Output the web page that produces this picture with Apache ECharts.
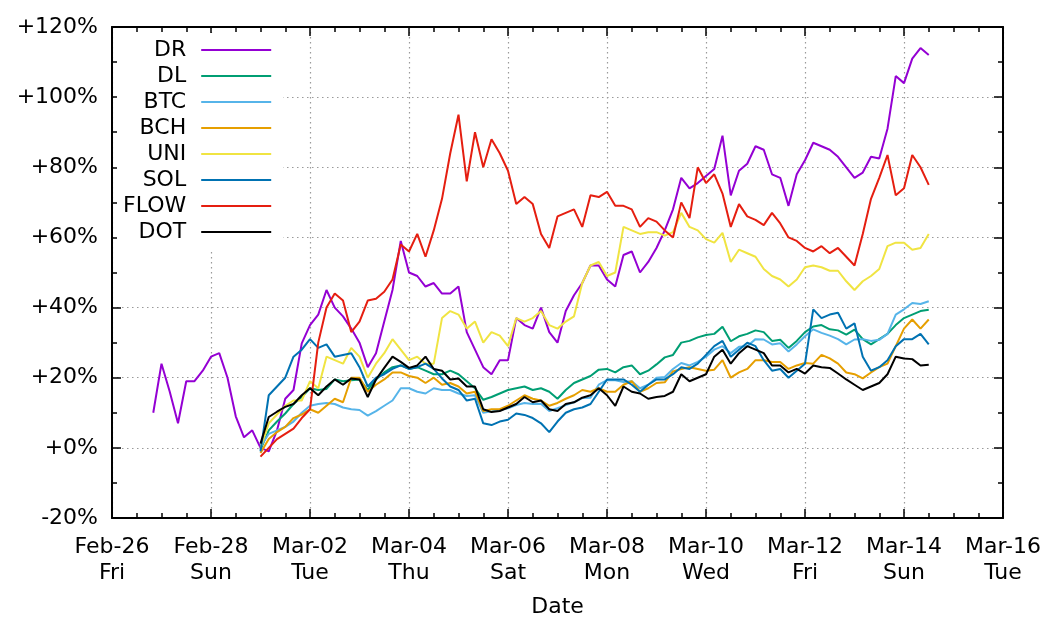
<!DOCTYPE html>
<html>
<head>
<meta charset="utf-8">
<title>Returns since Mar-01</title>
<script src="https://cdn.jsdelivr.net/npm/echarts@6/dist/echarts.min.js"></script>
<style>
  html, body { margin: 0; padding: 0; background: #fff; }
  #main { width: 1049px; height: 629px; }
</style>
</head>
<body>
<div id="main"></div>
<script>
// x axis is in days since Feb-26 00:00, samples every 4 hours
var STEP = 1 / 6;
var drStart = 20 / 24;   // Feb-26 20:00
var coinStart = 3;       // Mar-01 00:00

var dateLabels = ['Feb-26\nFri', 'Feb-28\nSun', 'Mar-02\nTue', 'Mar-04\nThu', 'Mar-06\nSat',
  'Mar-08\nMon', 'Mar-10\nWed', 'Mar-12\nFri', 'Mar-14\nSun', 'Mar-16\nTue'];

var names = ['DR', 'DL', 'BTC', 'BCH', 'UNI', 'SOL', 'FLOW', 'DOT'];
var colors = ['#9400d3', '#009e73', '#56b4e9', '#e69f00', '#f0e442', '#0072b2', '#e51e10', '#000000'];

// % change
var dr = [10,
  24, 16, 7, 19, 19, 22,
  26, 27, 20, 9, 3, 5,
  0, -1, 5, 14, 16.5, 29.8,
  35, 38, 45, 40, 37.5, 34,
  30, 23, 27, 36, 45, 59,
  50, 49, 46, 47, 44, 44,
  46, 33, 28, 23, 21, 25,
  25, 37, 35, 34, 40, 33,
  30, 39, 43.5, 47, 52, 52,
  48, 46, 55, 56, 50, 53,
  57, 62, 68, 77, 74, 75.5,
  77.5, 79.5, 89, 72, 79, 81,
  86, 85, 78, 77, 69, 78,
  82, 87, 86, 85, 83, 80,
  77, 78.5, 83, 82.5, 91, 106,
  104, 111, 114, 112];

var dl = [-0.5, 5, 7.5, 9.8, 12.5, 14.5,
  17, 16.5, 16.8, 19.5, 19, 19.3,
  19.5, 16.5, 19.5, 21.5, 23, 23.5,
  22.5, 23, 22, 21, 21, 22,
  21, 19, 17, 13.7, 14.5, 15.5,
  16.5, 17, 17.5, 16.5, 17, 16,
  14, 16.5, 18.5, 19.5, 20.5, 22.3,
  22.5, 21.5, 23, 23.5, 21, 22,
  23.8, 25.8, 26.5, 30, 30.5, 31.5,
  32.2, 32.5, 34.5, 30.4, 31.8, 32.5,
  33.5, 33, 30.5, 30.8, 28.5, 30.5,
  33, 34.6, 35, 33.8, 33.5, 32.3,
  33.7, 31, 29.5, 31, 32.5, 35,
  37, 38, 39, 39.4];

var btc = [0.3, 4, 5, 6, 7.5, 10,
  12, 12.5, 12.8, 12.5, 11.5, 11,
  10.8, 9.2, 10.5, 12, 13.5, 17,
  17, 16, 15.5, 17, 16.5, 16.5,
  15.5, 14.8, 15, 10, 10.4, 10.8,
  11.3, 12.2, 12.8, 12.5, 12.6, 10.5,
  11.3, 12.2, 13, 14.2, 14.3, 18,
  19.3, 19.3, 18.8, 19, 17, 18,
  20, 20.2, 22.5, 24.2, 23.5, 24.5,
  26, 28, 29, 27, 28.8, 29,
  31, 30.9, 29.5, 29.8, 27.5, 29.5,
  31.8, 33.8, 32.8, 32, 31, 29.5,
  30.9, 31, 30.5, 30.8, 32.5, 38,
  39.5, 41.3, 41, 41.8];

var bch = [-1.5, 2.5, 4.5, 6, 8.5, 9.5,
  11, 10, 12, 14, 13, 20,
  20, 16, 18, 19.5, 21.5, 21.5,
  20.5, 20, 18.5, 20, 18, 18.5,
  17.5, 15.5, 16, 10.5, 11, 11,
  12, 13.5, 15, 14, 13.5, 12,
  12.8, 14, 15, 16.5, 16, 17,
  16, 16, 18, 19, 16, 17,
  18.5, 18.7, 21.8, 22.5, 23, 22.5,
  22, 22.3, 25, 20, 21.5, 22.5,
  25, 25, 24.5, 24.5, 22.5, 23.5,
  24.2, 24, 26.5, 25.5, 24, 21.5,
  21, 19.8, 21.5, 23, 24, 29,
  34, 36.6, 34, 36.6];

var uni = [0, 7, 9.5, 12, 13.5, 13.5,
  19, 17, 26, 25, 24, 28.5,
  26, 20, 24, 27, 31, 28,
  25, 26, 24, 24, 37, 39,
  38, 34, 36, 30, 33, 32,
  29, 37, 36, 37, 39, 35,
  34, 36, 37.5, 47, 52, 53,
  49, 50, 63, 62, 61, 61.5,
  61.5, 60.5, 61.5, 67, 63, 62,
  59.5, 58.5, 61.3, 53, 56.5, 55.5,
  54.5, 51, 49, 48, 46, 48,
  51.5, 52, 51.5, 50.5, 50.5, 47.5,
  45, 47.5, 49, 51, 57.5, 58.5,
  58.5, 56.5, 57, 61];

var sol = [-1, 15, 17.5, 20, 26, 28,
  31, 28.5, 29.5, 26, 26.5, 27,
  23, 17.5, 20, 21, 22.5, 23.5,
  22.5, 23, 24, 22.5, 19.8, 17.5,
  16.5, 13.5, 14, 7, 6.5, 7.5,
  8, 9.8, 9.4, 8.5, 7, 4.5,
  7.5, 10, 11, 11.5, 12.5, 16,
  19.5, 19.5, 19.5, 18, 16, 18,
  19.5, 19.5, 21, 23, 22.5, 24,
  26.5, 29, 30.5, 26, 28, 30,
  29, 25, 22, 22.5, 20, 22,
  24, 39.5, 37, 38, 38.5, 34,
  35.5, 26, 22, 23, 25, 29,
  31, 31, 32.5, 29.5];

var flow = [-2.5, 0, 2.5, 4, 5.5, 8.5,
  11, 30, 40, 44, 42, 33,
  36, 42, 42.5, 44.5, 48, 58,
  56, 61, 54.5, 62, 71, 84,
  95, 76, 90, 80, 88, 84,
  79, 69.5, 71.5, 69.5, 61, 57,
  66, 67, 68, 63, 72, 71.5,
  73, 69, 69, 68, 63, 65.5,
  64.5, 62, 60, 70, 65.5, 80,
  75.5, 78, 72.5, 63, 69.5, 66,
  65, 63.5, 67, 64, 60, 59,
  57, 56, 57.5, 55.5, 57, 54.5,
  52, 61, 71, 77, 83.5, 72,
  74, 83.5, 80, 75];

var dot = [1.2, 8.8, 10.3, 11.7, 12.5, 15,
  17, 15, 17.5, 19.5, 18, 19.8,
  19.5, 14.5, 19.5, 22.8, 26, 24.5,
  22.8, 23.5, 26, 22.5, 22, 19.5,
  19.8, 17.5, 17.5, 11, 10.2, 10.5,
  11.5, 12.5, 14.5, 13, 13.5, 11,
  10.5, 12.5, 13, 14.3, 15, 17,
  15, 12, 17.5, 16, 15.5, 14,
  14.5, 14.8, 16, 21, 19, 20,
  21, 26, 28, 24, 27, 29,
  28, 27, 23.5, 23.5, 21.5, 22.5,
  21.2, 23.5, 23, 22.8, 21.2, 19.5,
  18, 16.5, 17.5, 18.5, 21, 26,
  25.5, 25.3, 23.5, 23.7];

var values = [dr, dl, btc, bch, uni, sol, flow, dot];
var starts = [drStart, coinStart, coinStart, coinStart, coinStart, coinStart, coinStart, coinStart];

function toPoints(start, vals) {
  return vals.map(function (v, i) {
    return [start + i * STEP, v];
  });
}

var FONT = 'DejaVu Sans';
var black = { color: '#000', width: 2 };
var tickStyle = { color: '#000', width: 1.5 };
var gridStyle = { color: '#9a9a9a', width: 1.2, type: [1.5, 3.5] };

var chart = echarts.init(document.getElementById('main'), null, { renderer: 'canvas' });

var series = names.map(function (n, k) {
  return {
    name: n,
    type: 'line',
    symbol: 'none',
    showSymbol: false,
    color: colors[k],
    lineStyle: { width: 2, color: colors[k] },
    data: toPoints(starts[k], values[k])
  };
});

var option = {
  animation: false,
  backgroundColor: '#fff',
  grid: { left: 112, right: 46, top: 27, bottom: 111, containLabel: false },
  legend: {
    data: names,
    orient: 'vertical',
    align: 'right',
    left: 117,
    top: 33,
    icon: 'rect',
    itemWidth: 70,
    itemHeight: 2,
    itemGap: 0,
    padding: [4, 12, 4, 6],
    backgroundColor: '#fff',
    selectedMode: false,
    textStyle: { color: '#000', fontSize: 22, fontFamily: FONT, lineHeight: 26, padding: [0, 10, 0, 0] }
  },
  xAxis: [{
    type: 'value',
    min: 0,
    max: 18,
    interval: 2,
    position: 'bottom',
    axisLine: { show: true, onZero: false, lineStyle: black },
    axisTick: { show: true, inside: true, length: 9, lineStyle: tickStyle },
    minorTick: { show: true, splitNumber: 4, length: 5, lineStyle: tickStyle },
    splitLine: { show: true, lineStyle: gridStyle },
    axisLabel: {
      color: '#000', fontSize: 22, fontFamily: FONT, lineHeight: 26, margin: 16,
      showMinLabel: true, showMaxLabel: true,
      formatter: function (v) { return dateLabels[Math.round(v / 2)]; }
    },
    name: 'Date',
    nameLocation: 'middle',
    nameGap: 78,
    nameTextStyle: { color: '#000', fontSize: 22, fontFamily: FONT }
  }, {
    type: 'value',
    min: 0,
    max: 18,
    interval: 2,
    position: 'top',
    axisLine: { show: true, onZero: false, lineStyle: black },
    axisTick: { show: true, inside: true, length: 9, lineStyle: tickStyle },
    minorTick: { show: true, splitNumber: 4, length: 5, lineStyle: tickStyle },
    splitLine: { show: false },
    axisLabel: { show: false }
  }],
  yAxis: [{
    type: 'value',
    min: -20,
    max: 120,
    interval: 20,
    position: 'left',
    axisLine: { show: true, onZero: false, lineStyle: black },
    axisTick: { show: true, inside: true, length: 9, lineStyle: tickStyle },
    minorTick: { show: true, splitNumber: 2, length: 5, lineStyle: tickStyle },
    splitLine: { show: true, lineStyle: gridStyle },
    axisLabel: {
      color: '#000', fontSize: 22, fontFamily: FONT, margin: 14,
      formatter: function (v) { return (v >= 0 ? '+' : '') + v + '%'; }
    }
  }, {
    type: 'value',
    min: -20,
    max: 120,
    interval: 20,
    position: 'right',
    axisLine: { show: true, onZero: false, lineStyle: black },
    axisTick: { show: true, inside: true, length: 9, lineStyle: tickStyle },
    minorTick: { show: true, splitNumber: 2, length: 5, lineStyle: tickStyle },
    splitLine: { show: false },
    axisLabel: { show: false }
  }],
  series: series
};

chart.setOption(option);
</script>
</body>
</html>
